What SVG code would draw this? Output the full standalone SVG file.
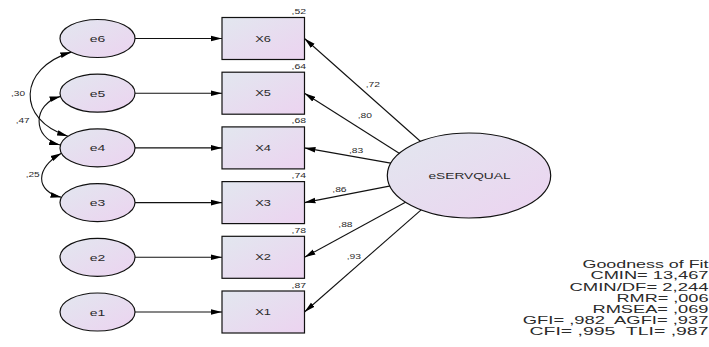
<svg xmlns="http://www.w3.org/2000/svg" width="709" height="347" viewBox="0 0 709 347">
<defs>
<linearGradient id="g" x1="0" y1="0" x2="1" y2="1">
<stop offset="0" stop-color="#e2e7ef"/>
<stop offset="1" stop-color="#ecd3f0"/>
</linearGradient>
<marker id="ah" markerUnits="userSpaceOnUse" markerWidth="12" markerHeight="7" refX="11" refY="2.8" orient="auto-start-reverse" viewBox="0 0 12 6">
<path d="M0,0 L11,2.8 L0,5.6 z" fill="#000"/>
</marker>
</defs>
<style>
.n{fill:url(#g);stroke:#111;stroke-width:1.2}
.c{fill:none;stroke:#111;stroke-width:1.1;marker-end:url(#ah)}
.cv{fill:none;stroke:#111;stroke-width:1.1;marker-start:url(#ah);marker-end:url(#ah)}
text{font-family:"Liberation Sans",Arial,sans-serif;fill:#2a2a2a;white-space:pre}
.lb{font-size:9px;text-anchor:middle}
.sm{font-size:7.5px}
.r{text-anchor:end}
.fit{font-size:10px;text-anchor:end}
</style>
<g id="connectors">
<line class="c" x1="135" y1="38.5" x2="222" y2="38.5"/>
<line class="c" x1="135" y1="93.2" x2="222" y2="93.2"/>
<line class="c" x1="135" y1="147.9" x2="222" y2="147.9"/>
<line class="c" x1="135" y1="202.6" x2="222" y2="202.6"/>
<line class="c" x1="135" y1="257.3" x2="222" y2="257.3"/>
<line class="c" x1="135" y1="312" x2="222" y2="312"/>
<line class="c" x1="430.2" y1="150" x2="304.5" y2="38.5"/>
<line class="c" x1="417.7" y1="165" x2="304.5" y2="93.2"/>
<line class="c" x1="404.8" y1="165.6" x2="304.5" y2="147.9"/>
<line class="c" x1="404.7" y1="183.1" x2="304.5" y2="202.6"/>
<line class="c" x1="419.2" y1="194.8" x2="304.5" y2="257.3"/>
<line class="c" x1="432.3" y1="200.1" x2="304.5" y2="312"/>
<path class="cv" d="M71.3,52.1 C18,68 16,120 68,136.2"/>
<path class="cv" d="M60.6,96.4 C32,104 32,138 60.1,145"/>
<path class="cv" d="M61.5,153.2 C35,167.8 35,191.5 61.5,197.3"/>
</g>
<g id="e6"><ellipse class="n" cx="97.5" cy="38.5" rx="37.5" ry="19"/><text class="lb" x="97.5" y="42" textLength="15.5" lengthAdjust="spacingAndGlyphs">e6</text></g>
<g id="e5"><ellipse class="n" cx="97.5" cy="93.2" rx="37.5" ry="19"/><text class="lb" x="97.5" y="96.7" textLength="15.5" lengthAdjust="spacingAndGlyphs">e5</text></g>
<g id="e4"><ellipse class="n" cx="97.5" cy="147.9" rx="37.5" ry="19"/><text class="lb" x="97.5" y="151.4" textLength="15.5" lengthAdjust="spacingAndGlyphs">e4</text></g>
<g id="e3"><ellipse class="n" cx="97.5" cy="202.6" rx="37.5" ry="19"/><text class="lb" x="97.5" y="206.1" textLength="15.5" lengthAdjust="spacingAndGlyphs">e3</text></g>
<g id="e2"><ellipse class="n" cx="97.5" cy="257.3" rx="37.5" ry="19"/><text class="lb" x="97.5" y="260.8" textLength="15.5" lengthAdjust="spacingAndGlyphs">e2</text></g>
<g id="e1"><ellipse class="n" cx="97.5" cy="312" rx="37.5" ry="19"/><text class="lb" x="97.5" y="315.5" textLength="15.5" lengthAdjust="spacingAndGlyphs">e1</text></g>
<g id="X6"><rect class="n" x="222" y="17.5" width="82.5" height="42"/><text class="lb" x="263" y="41.5" textLength="15.7" lengthAdjust="spacingAndGlyphs">X6</text><text class="sm r" x="306" y="14" textLength="14.5" lengthAdjust="spacingAndGlyphs">,52</text></g>
<g id="X5"><rect class="n" x="222" y="72.2" width="82.5" height="42"/><text class="lb" x="263" y="96.2" textLength="15.7" lengthAdjust="spacingAndGlyphs">X5</text><text class="sm r" x="306" y="68.7" textLength="14.5" lengthAdjust="spacingAndGlyphs">,64</text></g>
<g id="X4"><rect class="n" x="222" y="126.9" width="82.5" height="42"/><text class="lb" x="263" y="150.9" textLength="15.7" lengthAdjust="spacingAndGlyphs">X4</text><text class="sm r" x="306" y="123.4" textLength="14.5" lengthAdjust="spacingAndGlyphs">,68</text></g>
<g id="X3"><rect class="n" x="222" y="181.6" width="82.5" height="42"/><text class="lb" x="263" y="205.6" textLength="15.7" lengthAdjust="spacingAndGlyphs">X3</text><text class="sm r" x="306" y="178.1" textLength="14.5" lengthAdjust="spacingAndGlyphs">,74</text></g>
<g id="X2"><rect class="n" x="222" y="236.3" width="82.5" height="42"/><text class="lb" x="263" y="260.3" textLength="15.7" lengthAdjust="spacingAndGlyphs">X2</text><text class="sm r" x="306" y="232.8" textLength="14.5" lengthAdjust="spacingAndGlyphs">,78</text></g>
<g id="X1"><rect class="n" x="222" y="291" width="82.5" height="42"/><text class="lb" x="263" y="315" textLength="15.7" lengthAdjust="spacingAndGlyphs">X1</text><text class="sm r" x="306" y="287.5" textLength="14.5" lengthAdjust="spacingAndGlyphs">,87</text></g>
<g id="eSERVQUAL"><ellipse class="n" cx="469" cy="175.5" rx="81.7" ry="42.5"/><text class="lb" x="469.5" y="179" textLength="82" lengthAdjust="spacingAndGlyphs">eSERVQUAL</text></g>
<g id="labels">
<text class="sm" x="365.7" y="87.3" textLength="14.3" lengthAdjust="spacingAndGlyphs">,72</text>
<text class="sm" x="357.7" y="118.3" textLength="14.3" lengthAdjust="spacingAndGlyphs">,80</text>
<text class="sm" x="349" y="153.3" textLength="14.3" lengthAdjust="spacingAndGlyphs">,83</text>
<text class="sm" x="332.3" y="192" textLength="14.3" lengthAdjust="spacingAndGlyphs">,86</text>
<text class="sm" x="338.3" y="227.3" textLength="14.3" lengthAdjust="spacingAndGlyphs">,88</text>
<text class="sm" x="346.7" y="259.3" textLength="14.3" lengthAdjust="spacingAndGlyphs">,93</text>
<text class="sm" x="11" y="96" textLength="14" lengthAdjust="spacingAndGlyphs">,30</text>
<text class="sm" x="15.7" y="123.3" textLength="14" lengthAdjust="spacingAndGlyphs">,47</text>
<text class="sm" x="25.7" y="176.7" textLength="14" lengthAdjust="spacingAndGlyphs">,25</text>
</g>
<g id="fit">
<text class="fit" x="708.5" y="268.3" textLength="126" lengthAdjust="spacingAndGlyphs">Goodness of Fit</text>
<text class="fit" x="708.5" y="279.4" textLength="118" lengthAdjust="spacingAndGlyphs">CMIN= 13,467</text>
<text class="fit" x="708.5" y="290.5" textLength="139" lengthAdjust="spacingAndGlyphs">CMIN/DF= 2,244</text>
<text class="fit" x="708.5" y="301.6" textLength="92" lengthAdjust="spacingAndGlyphs">RMR= ,006</text>
<text class="fit" x="708.5" y="312.7" textLength="116" lengthAdjust="spacingAndGlyphs">RMSEA= ,069</text>
<text class="fit" x="708.5" y="323.8" textLength="185.7" lengthAdjust="spacingAndGlyphs">GFI= ,982  AGFI= ,937</text>
<text class="fit" x="708.5" y="334.9" textLength="179" lengthAdjust="spacingAndGlyphs">CFI= ,995  TLI= ,987</text>
</g>
</svg>
